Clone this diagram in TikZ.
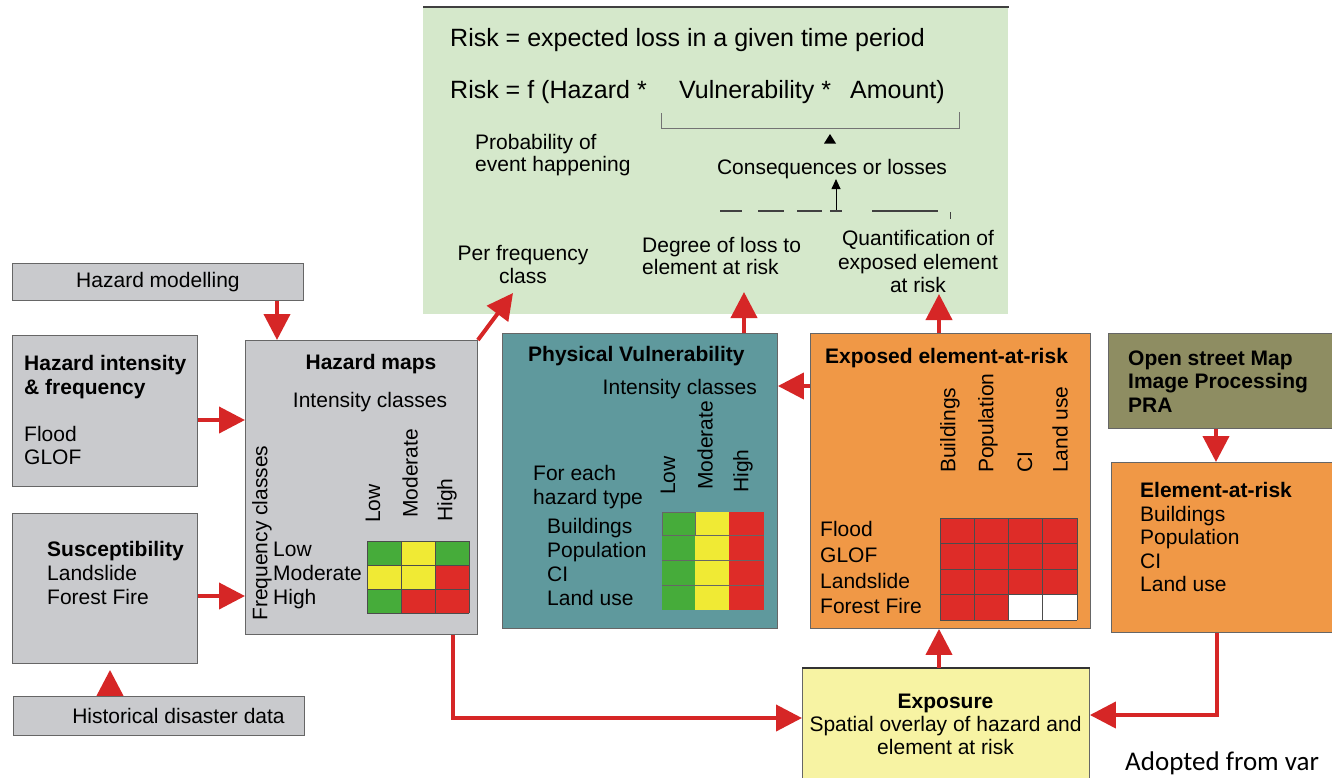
\documentclass[tikz,border=0pt]{standalone}
\usepackage{fontspec}
\setmainfont{Liberation Sans}
\newfontfamily\creditfont{Carlito}
\usetikzlibrary{arrows.meta}

\definecolor{boxgray}{RGB}{201,202,205}
\definecolor{riskgreen}{RGB}{213,232,203}
\definecolor{vulnteal}{RGB}{95,153,157}
\definecolor{exporange}{RGB}{240,152,70}
\definecolor{srcolive}{RGB}{142,141,98}
\definecolor{expyellow}{RGB}{247,243,163}
\definecolor{cgreen}{RGB}{70,172,58}
\definecolor{cyellow}{RGB}{240,234,52}
\definecolor{cred}{RGB}{222,44,40}
\definecolor{flowred}{RGB}{214,38,38}

\tikzset{
  panel/.style={draw=black!60, line width=0.9pt, anchor=north west, inner sep=0pt},
  lbl/.style={inner sep=0pt, font=\fontsize{21}{#1}\selectfont},
  lbl/.default=24,
  blbl/.style={inner sep=0pt, font=\fontsize{21}{#1}\selectfont\bfseries},
  blbl/.default=24,
  big/.style={inner sep=0pt, font=\fontsize{25}{30}\selectfont},
  flow/.style={draw=flowred, line width=4pt, -{Triangle[length=26pt,width=26pt]}},
  guide/.style={draw=black!55, line width=1pt},
  cell/.style={draw=black!70, line width=0.9pt},
}

\begin{document}
\begin{tikzpicture}[x=1pt,y=-1pt]
\useasboundingbox (0,0) rectangle (1332,777);
\clip (0,0) rectangle (1332,777);
\fill[white] (0,0) rectangle (1332,777);

% ---------- risk definition panel ----------
\node[panel, draw=none, fill=riskgreen, minimum width=585pt, minimum height=307pt] (risk) at (423,7) {};
\draw[black!75, line width=1.5pt] (risk.north west) -- (risk.north east);
\node[big, anchor=base west] (def) at (450,46) {Risk = expected loss in a given time period};
\node[big, anchor=base west] (fh) at (450,98) {Risk = f (Hazard *};
\node[big, anchor=base west] (fv) at (679,98) {Vulnerability *};
\node[big, anchor=base west] (fa) at (850,98) {Amount)};
\draw[guide] (661,113) -- (661,128) -- (959,128) -- (959,112);
\fill[black] (830,134) -- (824,143.5) -- (836,143.5) -- cycle;
\node[lbl=22, anchor=north west, align=left] (prob) at (475,134.3) {Probability of\\event happening};
\node[lbl, anchor=base] (cons) at (832,174.5) {Consequences or losses};
\coordinate (consbase) at (836,211);
\draw[black, line width=1pt, -{Triangle[length=10pt,width=9pt]}] (consbase) -- (cons.south -| consbase);
\foreach \a/\b in {720/742,758/784,797/822,830/842,872/938}
  \draw[black!75, line width=1.2pt] (\a,211) -- (\b,211);
\draw[black!75, line width=1pt] (950,212) -- (950,219);
\node[lbl=23, anchor=north, align=center] (perf) at (523,245.3) {Per frequency\\class};
\node[lbl=22, anchor=north west, align=left] (deg) at (642,237.3) {Degree of loss to\\element at risk};
\node[lbl=23.5, anchor=north, align=center] (quant) at (918,230.3) {Quantification of\\exposed element\\at risk};

% ---------- hazard inputs ----------
\node[panel, fill=boxgray, minimum width=291pt, minimum height=37pt, font=\fontsize{21}{24}\selectfont] (hm) at (12,263) {Hazard modelling};
\node[panel, fill=boxgray, minimum width=185pt, minimum height=151pt] (hi) at (12,335) {};
\node[lbl=23.5, anchor=north west, align=left] (hitxt) at (24,355.3)
  {\textbf{Hazard intensity}\\\textbf{\& frequency}\\[23.5pt]Flood\\GLOF};
\node[panel, fill=boxgray, minimum width=185pt, minimum height=150pt] (sus) at (12,513) {};
\node[lbl, anchor=north west, align=left] (sustxt) at (47,541.3)
  {\textbf{Susceptibility}\\Landslide\\Forest Fire};
\node[panel, fill=boxgray, minimum width=291pt, minimum height=39pt] (hist) at (13,696) {};
\node[lbl, anchor=base] (histtxt) at (178.5,723.5) {Historical disaster data};

% ---------- hazard maps ----------
\node[panel, fill=boxgray, minimum width=232pt, minimum height=294pt] (hmap) at (245,340) {};
\node[blbl, anchor=base] (hmaptitle) at (371,369.5) {Hazard maps};
\node[lbl, anchor=base] (hmapsub) at (370,407.5) {Intensity classes};
\node[lbl, rotate=90] (freq) at (262,533) {Frequency classes};
\node[lbl, rotate=90, anchor=west] (hcl) at (373,523) {Low};
\node[lbl, rotate=90, anchor=west] (hcm) at (410,518) {Moderate};
\node[lbl, rotate=90, anchor=west] (hch) at (447,522) {High};
\node[lbl, anchor=north west, align=left] (hrows) at (273,542.3) {Low\\Moderate\\High};
\foreach \r/\c/\col in {0/0/cgreen,0/1/cyellow,0/2/cgreen,
                        1/0/cyellow,1/1/cyellow,1/2/cred,
                        2/0/cgreen,2/1/cred,2/2/cred}
  \fill[\col] (367+34*\c,541+24*\r) rectangle ++(34,24);
\foreach \i in {0,1,2,3} {
  \draw[cell] (367+34*\i,541) -- (367+34*\i,613);
  \draw[cell] (367,541+24*\i) -- (469,541+24*\i);
}

% ---------- physical vulnerability ----------
\node[panel, fill=vulnteal, minimum width=275pt, minimum height=295pt] (pv) at (502,333) {};
\node[blbl, anchor=base west] (pvtitle) at (528,361.5) {Physical Vulnerability};
\node[lbl, anchor=base east] (pvsub) at (757,394.5) {Intensity classes};
\node[lbl, rotate=90, anchor=west] (pvl) at (668,495) {Low};
\node[lbl, rotate=90, anchor=west] (pvm) at (705,490) {Moderate};
\node[lbl, rotate=90, anchor=west] (pvh) at (743,493) {High};
\node[lbl, anchor=north west, align=left] (pvfor) at (533,465.3) {For each\\hazard type};
\node[lbl=23.8, anchor=north west, align=left] (pvrows) at (547,518.3) {Buildings\\Population\\CI\\Land use};
\fill[cgreen] (662,512) rectangle (695,610);
\fill[cyellow] (695,512) rectangle (729,610);
\fill[cred] (729,512) rectangle (764,610);
\foreach \y in {535,560,585}
  \draw[black!60, line width=0.9pt] (662,\y) -- (764,\y);
\draw[black!60, line width=0.9pt] (662,512) rectangle (695,535);

% ---------- exposed elements ----------
\node[panel, fill=exporange, minimum width=280pt, minimum height=295pt] (ex) at (810,333) {};
\node[blbl, anchor=base west] (extitle) at (825,363.5) {Exposed element-at-risk};
\node[lbl, rotate=90, anchor=west] (exb) at (950,473) {Buildings};
\node[lbl, rotate=90, anchor=west] (exp) at (988,473) {Population};
\node[lbl, rotate=90, anchor=west] (exc) at (1025,473) {CI};
\node[lbl, rotate=90, anchor=west] (exl) at (1060,473) {Land use};
\node[lbl=25.7, anchor=north west, align=left] (exrows) at (820,521.3) {Flood\\GLOF\\Landslide\\Forest Fire};
\fill[cred] (940,518) rectangle (1077,620);
\fill[white] (1008,594.5) rectangle (1077,620);
\foreach \i in {0,1,2,3,4} {
  \draw[cell] (940+34.25*\i,518) -- (940+34.25*\i,620);
  \draw[cell] (940,518+25.5*\i) -- (1077,518+25.5*\i);
}

% ---------- element-at-risk sources ----------
\node[panel, fill=srcolive, minimum width=240pt, minimum height=95pt] (osm) at (1108,333) {};
\node[blbl=23.5, anchor=north west, align=left] (osmtxt) at (1128,350.3)
  {Open street Map\\Image Processing\\PRA};
\node[panel, fill=exporange, minimum width=240pt, minimum height=170pt] (ear) at (1111,462) {};
\node[lbl=23.5, anchor=north west, align=left] (eartxt) at (1140,482.3)
  {\textbf{Element-at-risk}\\Buildings\\Population\\CI\\Land use};

% ---------- exposure ----------
\node[panel, fill=expyellow, minimum width=287pt, minimum height=130pt] (expo) at (802,668) {};
\draw[black!80, line width=1.5pt] (expo.north west) -- (expo.north east);
\node[lbl=23, anchor=north, align=center] (expotxt) at (945.5,694.3)
  {\textbf{Exposure}\\Spatial overlay of hazard and\\element at risk};

\node[inner sep=0pt, anchor=base west, font=\creditfont\fontsize{27}{30}\selectfont] (credit) at (1125,770) {Adopted from var};

% ---------- connectors ----------
\coordinate (xa) at (277,0);
\coordinate (xb) at (110,0);
\coordinate (xc) at (744,0);
\coordinate (xd) at (939,0);
\coordinate (xe) at (1216,0);
\coordinate (xf) at (1217,0);
\coordinate (xg) at (453,0);
\coordinate (ya) at (0,420);
\coordinate (yb) at (0,596);
\coordinate (yc) at (0,386);
\coordinate (yd) at (0,715);
\coordinate (ye) at (0,718);
\coordinate (pftip) at (513,293);
\coordinate (dgtip) at (744,292);
\coordinate (qttip) at (939,294);

\draw[flow] (hm.south -| xa) -- (hmap.north -| xa);
\draw[flow] (hi.east |- ya) -- (hmap.west |- ya);
\draw[flow] (sus.east |- yb) -- (hmap.west |- yb);
\draw[flow, shorten >=6pt] (hist.north -| xb) -- (sus.south -| xb);
\draw[flow] (hmap.north east) -- (pftip);
\draw[flow] (pv.north -| xc) -- (dgtip);
\draw[flow] (ex.north -| xd) -- (qttip);
\draw[flow] (ex.west |- yc) -- (pv.east |- yc);
\draw[flow] (expo.north -| xd) -- (ex.south -| xd);
\draw[flow] (osm.south -| xe) -- (ear.north -| xe);
\draw[flow] (ear.south -| xf) |- (expo.east |- yd);
\draw[flow] (hmap.south -| xg) |- (expo.west |- ye);
\end{tikzpicture}
\end{document}
